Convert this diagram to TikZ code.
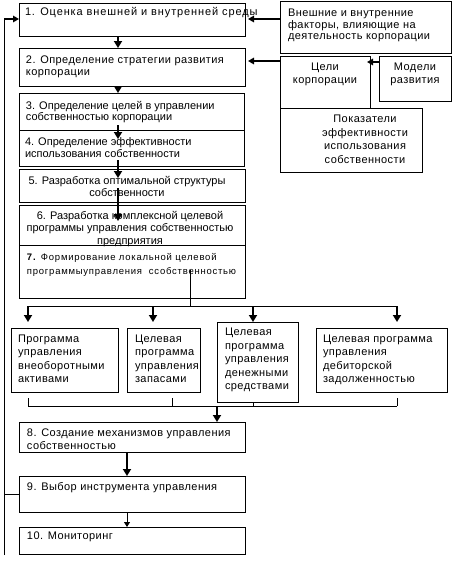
\documentclass[tikz,border=0pt]{standalone}
\usepackage{fontspec}
\setmainfont{Liberation Sans}[LetterSpace=4]
\newfontfamily\widefont{Liberation Sans}[LetterSpace=8]
\newfontfamily\onefont{Liberation Sans}[LetterSpace=8]
\newfontfamily\narrowfont{Liberation Sans}
\usetikzlibrary{arrows.meta,calc}
\begin{document}
\begin{tikzpicture}[x=1pt,y=-1pt,
  boxst/.style={draw,line width=0.8pt,inner sep=0pt,outer sep=0pt,anchor=north west},
  tl/.style={inner sep=0pt,outer sep=0pt,anchor=north west,align=left,font=\fontsize{11}{11.8}\selectfont},
  tc/.style={inner sep=0pt,outer sep=0pt,anchor=north,align=center,font=\fontsize{11}{12.5}\selectfont},
  ln/.style={line width=0.8pt},
  fat/.style={line width=2.6pt,-{Triangle[width=8pt,length=7pt]}},
  med/.style={line width=2pt,-{Triangle[width=6.5pt,length=6pt]}},
  thinarr/.style={line width=0.8pt,-{Triangle[width=6pt,length=5pt]}}]
\useasboundingbox (0,0) rectangle (468,566);
% main chain boxes
\node[boxst,minimum width=226pt,minimum height=33pt] (b1) at (19,3) {};
\node[boxst,minimum width=226pt,minimum height=38pt] (b2) at (19,48) {};
\node[boxst,minimum width=225pt,minimum height=37pt] (b3) at (19,93) {};
\node[boxst,minimum width=225pt,minimum height=36pt] (b4) at (19,130) {};
\node[boxst,minimum width=226pt,minimum height=33pt] (b5) at (19,169) {};
\node[boxst,minimum width=226pt,minimum height=40pt] (b6) at (19,205) {};
\node[boxst,minimum width=226pt,minimum height=53pt] (b7) at (19,245) {};
% right side boxes
\node[boxst,minimum width=171pt,minimum height=52pt] (ext) at (280,1) {};
\node[boxst,minimum width=90pt,minimum height=52pt] (goals) at (280,56) {};
\node[boxst,minimum width=72pt,minimum height=45pt] (models) at (379,56) {};
\node[boxst,minimum width=142pt,minimum height=64pt] (ind) at (280,108) {};
% program boxes
\node[boxst,minimum width=107pt,minimum height=64pt] (pA) at (11,328) {};
\node[boxst,minimum width=73pt,minimum height=64pt] (pB) at (127,328) {};
\node[boxst,minimum width=81pt,minimum height=80pt] (pC) at (217,322) {};
\node[boxst,minimum width=131pt,minimum height=64pt] (pD) at (316,328) {};
% lower boxes
\node[boxst,minimum width=226pt,minimum height=30pt] (b8) at (19,422) {};
\node[boxst,minimum width=226pt,minimum height=36pt] (b9) at (19,476) {};
\node[boxst,minimum width=226pt,minimum height=27pt] (b10) at (19,527) {};
% texts
\node[tl,font=\onefont\fontsize{11}{11.8}\selectfont] (t1) at (25,7) {1. Оценка внешней и внутренней среды};
\node[tl] (t2) at (26,56) {2. Определение стратегии развития\\корпорации};
\node[tl,font=\narrowfont\fontsize{11}{11.8}\selectfont] (t3) at (26,101) {3. Определение целей в управлении\\собственностью корпорации};
\node[tl,font=\narrowfont\fontsize{11}{11.8}\selectfont] (t4) at (25,138) {4. Определение эффективности\\использования собственности};
\node[tc,font=\narrowfont\fontsize{11}{12}\selectfont] (t5) at (127,176) {5. Разработка оптимальной структуры\\собственности};
\node[tc,font=\narrowfont\fontsize{11}{12.5}\selectfont] (t6) at (130,211) {6. Разработка комплексной целевой\\программы управления собственностью\\предприятия};
\node[tl,font=\widefont\fontsize{9.5}{14}\selectfont] (t7) at (27,253) {\textbf{7.} Формирование локальной целевой\\программыуправления\ \ ссобственностью};
\node[tl,font=\fontsize{11}{11.5}\selectfont] (te) at (288,9) {Внешние и внутренние\\факторы, влияющие на\\деятельность корпорации};
\node[tc,font=\fontsize{11}{13}\selectfont] (tg) at (325,63) {Цели\\корпорации};
\node[tc,font=\fontsize{11}{13}\selectfont] (tm) at (415,63) {Модели\\развития};
\node[tc,font=\fontsize{11}{13.5}\selectfont] (ti) at (365,115) {Показатели\\эффективности\\использования\\собственности};
\node[tl,font=\fontsize{11}{13.3}\selectfont] (ta) at (18,335) {Программа\\управления\\внеоборотными\\активами};
\node[tl,font=\fontsize{11}{13.3}\selectfont] (tb) at (135,335) {Целевая\\программа\\управления\\запасами};
\node[tl,font=\fontsize{11}{13.5}\selectfont] (tcc) at (225,328) {Целевая\\программа\\управления\\денежными\\средствами};
\node[tl,font=\fontsize{11}{13.3}\selectfont] (td) at (323,335) {Целевая программа\\управления\\дебиторской\\задолженностью};
\node[tl,font=\fontsize{11}{13}\selectfont] (t8) at (27,429) {8. Создание механизмов управления\\собственностью};
\node[tl] (t9) at (27,482) {9. Выбор инструмента управления};
\node[tl] (t10) at (27,532) {10. Мониторинг};
% chain arrows
\coordinate (ax) at (118,0);
\draw[fat] (b1.south -| ax) -- (b2.north -| ax);
\draw[fat] (b2.south -| ax) -- (b3.north -| ax);
\draw[fat] ($(b3.south -| ax)+(0,-5)$) -- ($(b4.north -| ax)+(0,9)$);
\draw[fat] ($(b4.south -| ax)+(0,-6)$) -- ($(b5.north -| ax)+(0,9)$);
\draw[fat] ($(b5.south -| ax)+(0,-14)$) -- ($(b6.north -| ax)+(0,16)$);
% feedback line
\coordinate (fbT) at (4,19);
\coordinate (fbB) at (4,555);
\draw[ln] (fbB) -- (fbT);
\draw[med] (fbT) -- (b1.west |- fbT);
\draw[ln] (b9.west) -- (b9.west -| fbT);
% right side arrows
\coordinate (e1) at ($(ext.north west)+(0,18)$);
\draw[med] (e1) -- ($(b1.east |- e1)+(3,0)$);
\coordinate (g1) at ($(goals.north west)+(0,5)$);
\draw[med] (g1) -- ($(b2.east |- g1)+(3,0)$);
\coordinate (m1) at ($(models.north west)+(0,6)$);
\draw[med] (m1) -- ($(goals.east |- m1)+(-3,0)$);
% fan-out
\coordinate (sp) at (190,306);
\coordinate (hl) at (28,306);
\coordinate (hB) at (153,306);
\coordinate (hC) at (253,306);
\coordinate (hr) at (397,306);
\draw[ln] ($(b7.south -| sp)+(0,-28)$) -- (sp);
\draw[ln] (hl) -- (hr);
\draw[fat] (hl) -- ($(pA.north -| hl)+(0,-6)$);
\draw[fat] (hB) -- ($(pB.north -| hB)+(0,-6)$);
\draw[fat] (hC) -- (pC.north -| hC);
\draw[fat] (hr) -- ($(pD.north -| hr)+(0,-6)$);
% gathering bracket
\coordinate (gl) at (28,406);
\coordinate (gB) at (172,406);
\coordinate (gC) at (253,406);
\coordinate (gr) at (397,406);
\coordinate (gm) at (217,406);
\draw[ln] (gl) -- (gr);
\draw[ln] ($(gl)+(0,-8)$) -- (gl);
\draw[ln] ($(gB)+(0,-8)$) -- (gB);
\draw[ln] (pC.south -| gC) -- (gC);
\draw[ln] ($(gr)+(0,-8)$) -- (gr);
\draw[fat] (gm) -- (b8.north -| gm);
% lower chain
\coordinate (bx) at (127,0);
\draw[fat] (b8.south -| bx) -- (b9.north -| bx);
\draw[thinarr] (b9.south -| bx) -- (b10.north -| bx);
\end{tikzpicture}
\end{document}
